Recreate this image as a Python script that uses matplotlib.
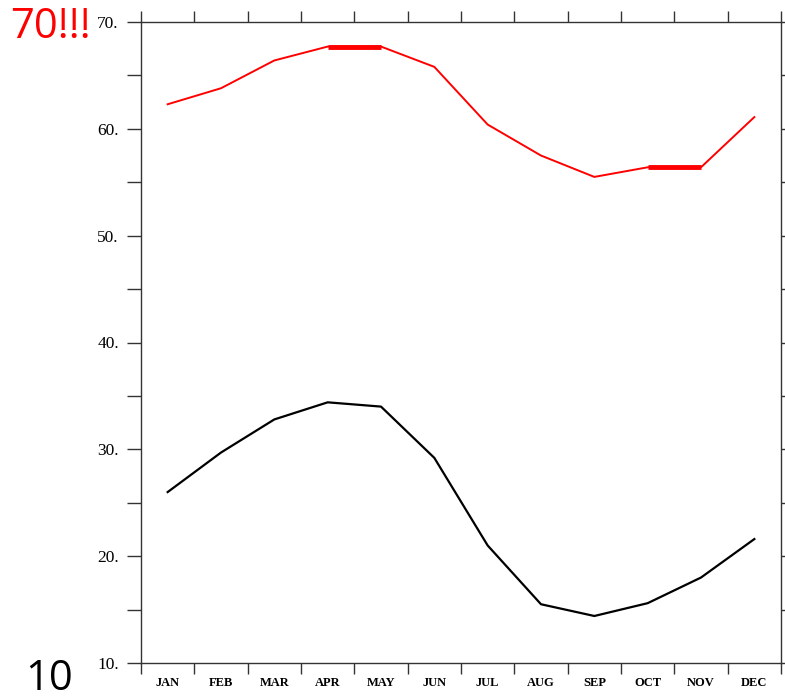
import matplotlib
matplotlib.use("Agg")
from matplotlib import pyplot as plt
import numpy as np

months = ["JAN", "FEB", "MAR", "APR", "MAY", "JUN",
          "JUL", "AUG", "SEP", "OCT", "NOV", "DEC"]
red_vals = [62.3, 63.8, 66.4, 67.7, 67.7, 65.8, 60.4, 57.5, 55.5, 56.4, 56.4, 61.1]
black_vals = [26.0, 29.7, 32.8, 34.4, 34.0, 29.2, 21.0, 15.5, 14.4, 15.6, 18.0, 21.6]
y_ticks = [10, 20, 30, 40, 50, 60, 70]

fig = plt.figure(figsize=(7.85, 6.99), dpi=100)
ax = fig.add_axes([141 / 785, 36 / 699, 640 / 785, 641 / 699])

x = np.arange(len(months)) + 0.5
ax.plot(x, red_vals, color="red", lw=1.4)
ax.plot(x, black_vals, color="black", lw=1.6)

# flat stretches come out thicker in the original
for i in range(len(red_vals) - 1):
    if red_vals[i] == red_vals[i + 1]:
        ax.plot(x[i:i + 2], red_vals[i:i + 2], color="red", lw=3.5,
                solid_capstyle="butt")

ax.set_xlim(0, 12)
ax.set_ylim(10, 70)

ax.set_xticks(np.arange(13))
ax.set_xticklabels([])
ax.set_xticks(x, minor=True)
ax.set_xticklabels(months, minor=True, fontsize=9, fontweight="bold",
                   family="Liberation Serif")
ax.tick_params(axis="x", which="major", direction="out", length=8,
               width=1, top=True, color="#333333")
ax.tick_params(axis="x", which="minor", length=0, pad=10)

ax.set_yticks(y_ticks)
ax.set_yticklabels([f"{v}." for v in y_ticks], fontsize=12.5,
                   family="Liberation Serif")
ax.set_yticks(np.arange(15, 70, 10), minor=True)
ax.tick_params(axis="y", which="both", direction="out", length=10,
               width=1, right=True, color="#333333", pad=6)

for s in ax.spines.values():
    s.set_color("#333333")
    s.set_linewidth(1)

fig.text(10 / 785, 1 - 38 / 699, "70!!!", color="red", fontsize=30,
         family="Open Sans")
fig.text(25 / 785, 1 - 690 / 699, "10", color="black", fontsize=30,
         family="Open Sans")

fig.savefig("out.png", dpi=100)
